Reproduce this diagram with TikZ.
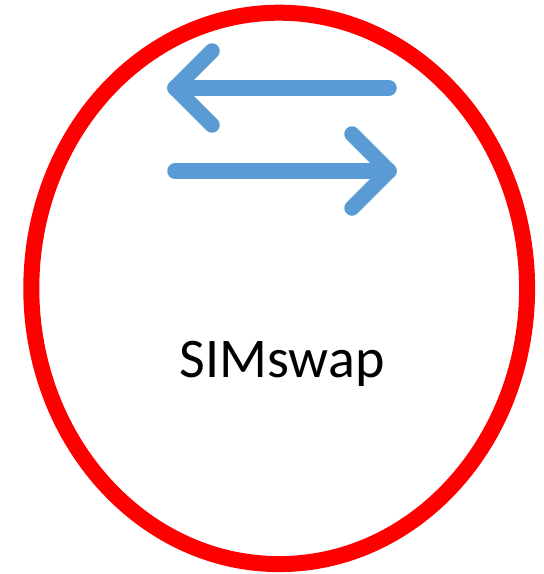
\documentclass[tikz,border=0pt]{standalone}
\usepackage{fontspec}
\setmainfont{Carlito}
\definecolor{ringred}{RGB}{255,0,0}
\definecolor{arrowblue}{RGB}{91,155,213}
\tikzset{
  ring/.style={draw=ringred, line width=16pt},
  swaparrow/.style={draw=arrowblue, line width=15.5pt, line cap=round, line join=round},
  label/.style={font=\fontsize{56pt}{62pt}\selectfont, inner sep=0pt}
}
\begin{document}
\begin{tikzpicture}[x=1pt,y=-1pt]
  \useasboundingbox (0,0) rectangle (544,574);
  % outer ring
  \draw[ring] (279.2,288.4) ellipse [x radius=247.9, y radius=275.7];
  % left-pointing arrow
  \coordinate (ltail) at (389,88);
  \coordinate (ltip) at (175,88);
  \coordinate (lup) at (212,51);
  \coordinate (ldown) at (212,125);
  \draw[swaparrow] (ltail) -- (ltip);
  \draw[swaparrow] (lup) -- (ltip) -- (ldown);
  % right-pointing arrow
  \coordinate (rtail) at (175,171);
  \coordinate (rtip) at (389,171);
  \coordinate (rup) at (352,134);
  \coordinate (rdown) at (352,208);
  \draw[swaparrow] (rtail) -- (rtip);
  \draw[swaparrow] (rup) -- (rtip) -- (rdown);
  % caption
  \node[label, anchor=base] (name) at (282,377) {SIMswap};
\end{tikzpicture}
\end{document}
